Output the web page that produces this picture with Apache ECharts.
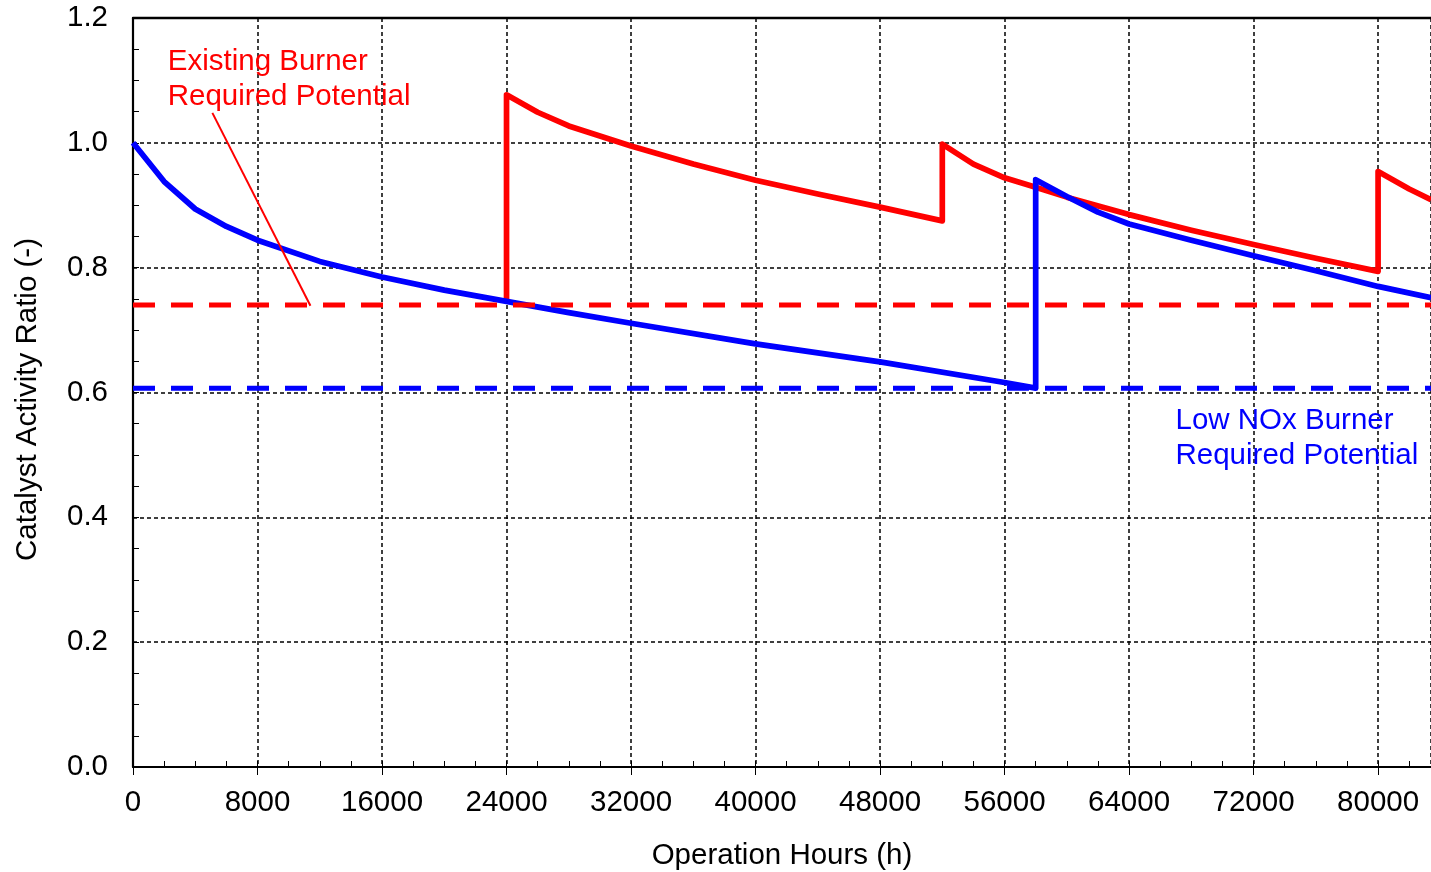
<!DOCTYPE html>
<html>
<head>
<meta charset="utf-8">
<title>Catalyst Activity Ratio</title>
<script src="https://cdn.jsdelivr.net/npm/echarts@6/dist/echarts.min.js"></script>
<style>
  html, body { margin: 0; padding: 0; background: #ffffff; }
  #chart { width: 1431px; height: 872px; }
</style>
</head>
<body>
<div id="chart"></div>
<script>
// Existing burner: catalyst activity after each catalyst addition (vertical jumps)
const existingHours = [24000, 24000, 26000, 28000, 32000, 36000, 40000, 44000, 48000, 52000,
                       52000, 54000, 56000, 58000, 60000, 64000, 68000, 72000, 76000, 80000,
                       80000, 82000, 83400];
const existingRatio = [0.745, 1.077, 1.049, 1.027, 0.995, 0.966, 0.940, 0.918, 0.897, 0.875,
                       0.998, 0.966, 0.944, 0.929, 0.913, 0.885, 0.860, 0.837, 0.815, 0.794,
                       0.954, 0.926, 0.909];

// Low NOx burner: initial catalyst decay, one addition at 58000 h
const lowNoxHours = [0, 2000, 4000, 6000, 8000, 12000, 16000, 20000, 24000, 28000, 32000,
                     40000, 48000, 56000, 58000, 58000, 60000, 62000, 64000, 68000, 72000,
                     76000, 80000, 83400];
const lowNoxRatio = [1.000, 0.938, 0.894, 0.866, 0.844, 0.810, 0.785, 0.764, 0.746, 0.728, 0.711,
                     0.678, 0.649, 0.616, 0.607, 0.941, 0.914, 0.889, 0.870, 0.844, 0.819,
                     0.795, 0.770, 0.752];

// Required potential levels
const existingRequired = 0.74;
const lowNoxRequired = 0.607;

// Axis ranges and ticks
const xMin = 0, xMax = 83400, xMajor = 8000, xMinor = 2000;
const yMin = 0, yMax = 1.2, yMajor = 0.2;

// Annotation texts, anchors (data coordinates) and the leader line
const existingLabel = 'Existing Burner\nRequired Potential';
const existingLabelAt = [2200, 1.101];
const lowNoxLabel = 'Low NOx Burner\nRequired Potential';
const lowNoxLabelAt = [66950, 0.526];
const leaderHours = [5100, 11400];
const leaderRatio = [1.048, 0.739];

const zip = (xs, ys) => xs.map((x, i) => [x, ys[i]]);
const FONT = '"Liberation Sans", Arial, Helvetica, sans-serif';
const FS = 29.5;
const RED = '#ff0000', BLUE = '#0000ff';

const chart = echarts.init(document.getElementById('chart'), null, { renderer: 'canvas' });

const option = {
  animation: false,
  backgroundColor: '#ffffff',
  textStyle: { fontFamily: FONT },
  grid: { left: 133, top: 18, right: 0, bottom: 105, containLabel: false, outerBoundsMode: 'none' },
  xAxis: [
    {
      type: 'value', min: xMin, max: xMax, interval: xMajor,
      name: 'Operation Hours (h)', nameLocation: 'middle', nameGap: 74,
      nameTextStyle: { fontSize: FS, color: '#000', fontFamily: FONT },
      axisLine: { show: true, onZero: false, lineStyle: { color: '#000', width: 2.2 } },
      axisTick: { show: true, inside: false, length: 8, lineStyle: { color: '#000', width: 1 } },
      axisLabel: { fontSize: FS, color: '#000', margin: 21, showMaxLabel: false, fontFamily: FONT,
                   formatter: v => String(v) },
      splitLine: { show: true, lineStyle: { color: '#000', width: 1.5, type: [4, 3] } },
      z: 3
    },
    {
      // minor ticks pointing into the plot
      type: 'value', min: xMin, max: xMax, interval: xMinor,
      position: 'bottom',
      axisLine: { show: false },
      axisTick: { show: true, inside: true, length: 6, lineStyle: { color: '#000', width: 1 } },
      axisLabel: { show: false },
      splitLine: { show: false }
    },
    {
      // top frame line
      type: 'value', min: xMin, max: xMax, position: 'top',
      axisLine: { show: true, onZero: false, lineStyle: { color: '#000', width: 2.4 } },
      axisTick: { show: false }, axisLabel: { show: false }, splitLine: { show: false }
    }
  ],
  yAxis: {
    type: 'value', min: yMin, max: yMax, interval: yMajor,
    name: 'Catalyst Activity Ratio (-)', nameLocation: 'middle', nameGap: 90,
    nameTextStyle: { fontSize: FS, color: '#000', fontFamily: FONT, padding: [0, 14, 0, 0] },
    axisLine: { show: true, onZero: false, lineStyle: { color: '#000', width: 2.2 } },
    axisTick: { show: true, inside: true, length: 6, lineStyle: { color: '#000', width: 1 } },
    minorTick: { show: true, splitNumber: 4, length: 6, lineStyle: { color: '#000', width: 1 } },
    axisLabel: { fontSize: FS, color: '#000', margin: 25, fontFamily: FONT,
                 formatter: v => v.toFixed(1) },
    splitLine: { show: true, lineStyle: { color: '#000', width: 1.5, type: [4, 3] } },
    z: 3
  },
  series: [
    {
      name: 'Existing Burner', type: 'line', data: zip(existingHours, existingRatio),
      symbol: 'none', lineStyle: { color: RED, width: 5.7, join: 'round' },
      itemStyle: { color: RED }, z: 4, silent: true
    },
    {
      name: 'Low NOx Burner', type: 'line', data: zip(lowNoxHours, lowNoxRatio),
      symbol: 'none', lineStyle: { color: BLUE, width: 5.7, join: 'round' },
      itemStyle: { color: BLUE }, z: 5, silent: true
    },
    {
      name: 'Low NOx Required', type: 'line',
      data: [[xMin, lowNoxRequired], [xMax, lowNoxRequired]],
      symbol: 'none', lineStyle: { color: BLUE, width: 5, type: [22, 16] }, z: 6, silent: true
    },
    {
      name: 'Existing Required', type: 'line',
      data: [[xMin, existingRequired], [xMax, existingRequired]],
      symbol: 'none', lineStyle: { color: RED, width: 5, type: [22, 16] }, z: 7, silent: true
    },
    {
      name: 'Leader', type: 'line', data: zip(leaderHours, leaderRatio),
      symbol: 'none', lineStyle: { color: RED, width: 2 }, z: 7, silent: true
    },
    {
      name: 'Labels', type: 'scatter', symbolSize: 1, silent: true, z: 8,
      itemStyle: { opacity: 0 },
      data: [
        { value: existingLabelAt, label: { formatter: existingLabel, color: RED } },
        { value: lowNoxLabelAt, label: { formatter: lowNoxLabel, color: BLUE } }
      ],
      label: {
        show: true, position: 'right', distance: 0, align: 'left', verticalAlign: 'middle',
        fontSize: FS, lineHeight: 35, fontFamily: FONT,
        textBorderWidth: 0, opacity: 1
      },
      emphasis: { disabled: true }
    }
  ]
};

chart.setOption(option);
</script>
</body>
</html>
